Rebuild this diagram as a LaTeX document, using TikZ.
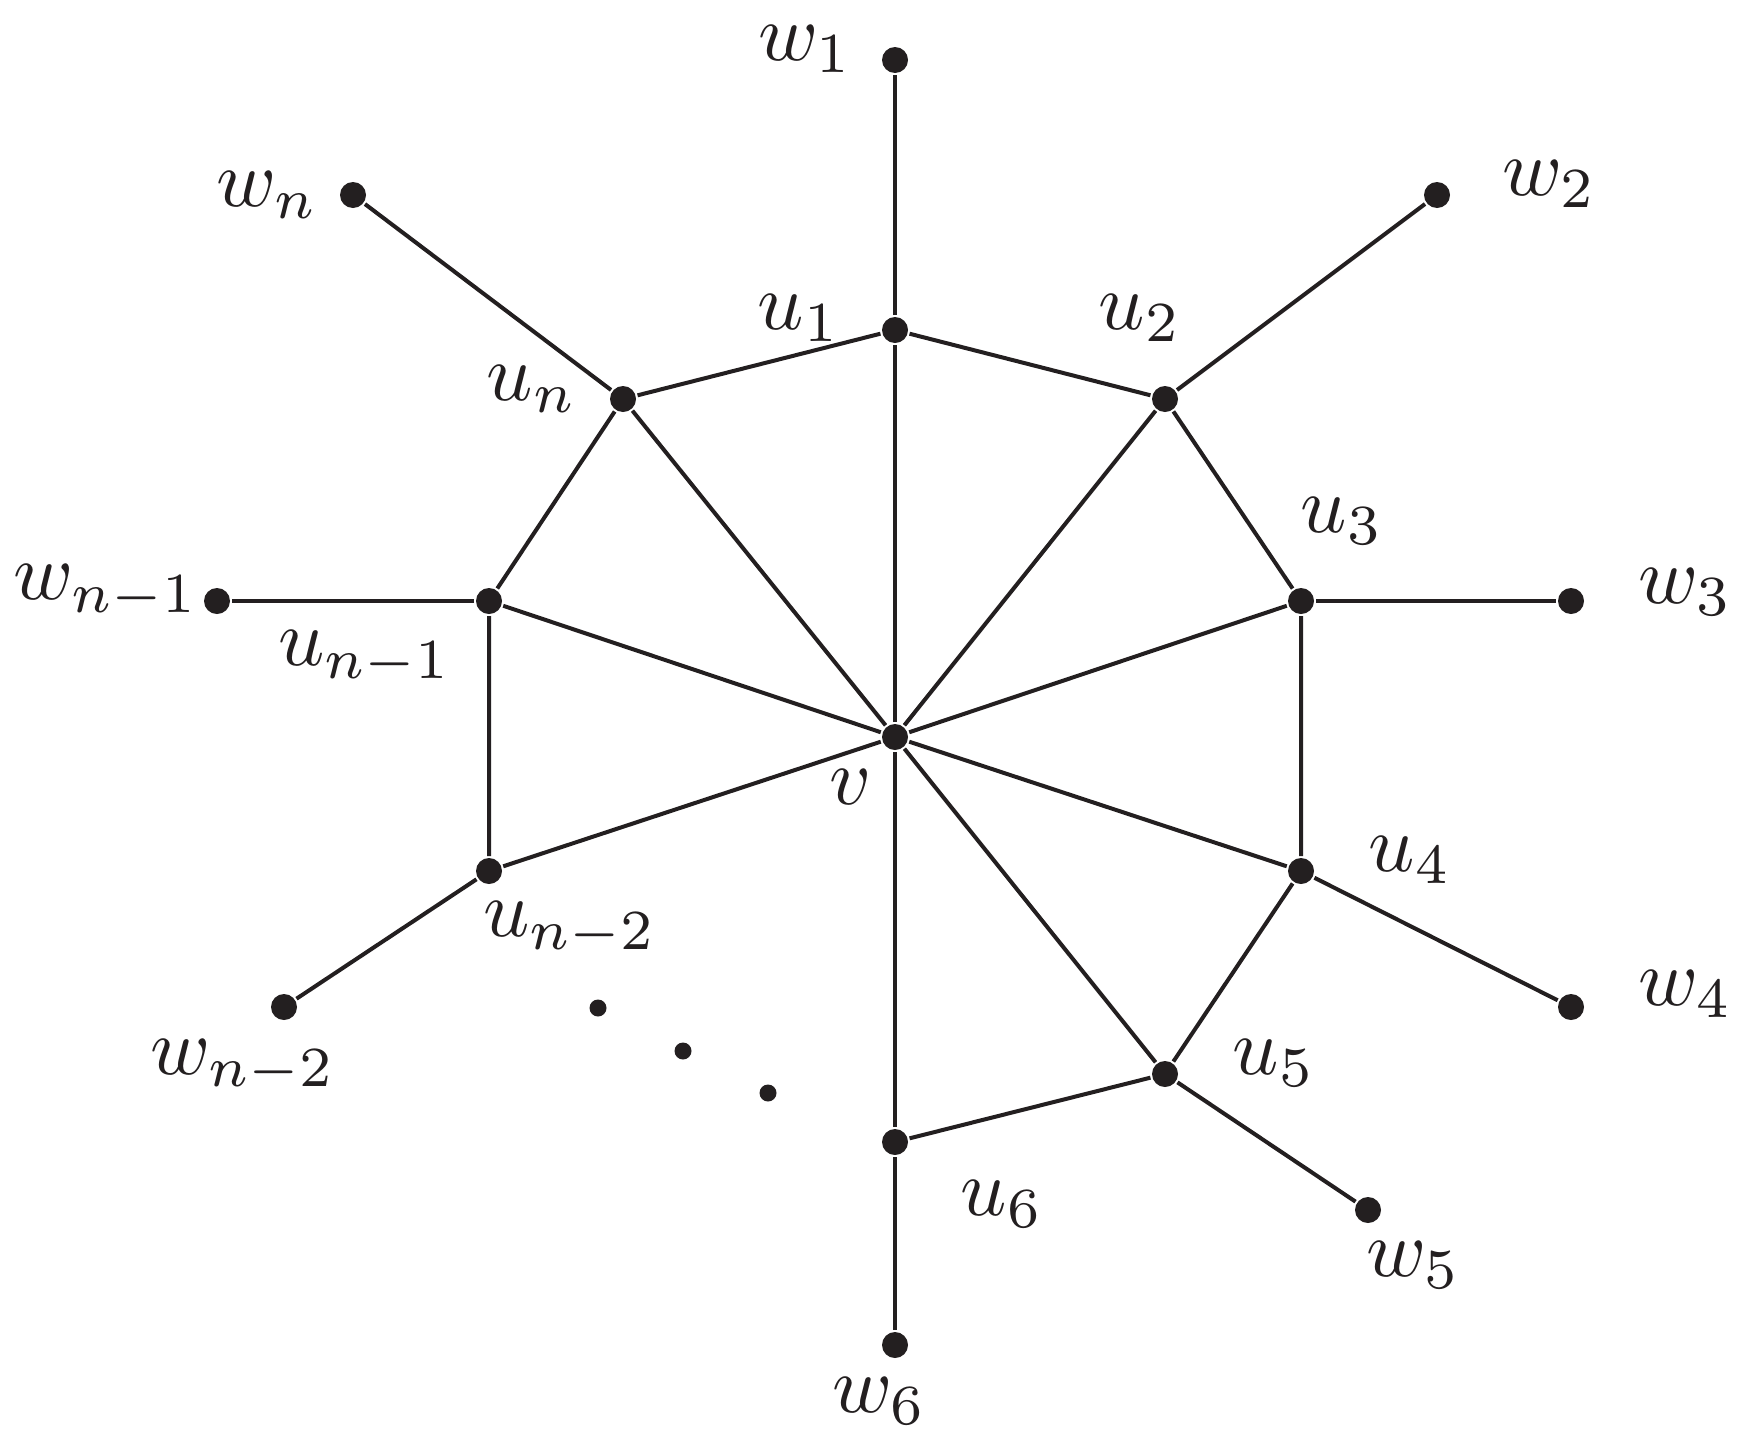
\documentclass[tikz,border=0pt]{standalone}
\definecolor{ink}{RGB}{35,31,32}
\begin{document}
\begin{tikzpicture}[x=1pt,y=-1pt,line width=4pt,draw=ink,
  vert/.style={circle,fill=ink,inner sep=0pt,minimum size=26pt},
  sdot/.style={circle,fill=ink,inner sep=0pt,minimum size=17pt},
  lab/.style={scale=8.1,text=ink,inner sep=0pt}]
\useasboundingbox (0,0) rectangle (1751,1451);
% vertices
\node[vert] (v)  at (895,737) {};
\node[vert] (u1) at (895,330) {};
\node[vert] (u2) at (1165,399) {};
\node[vert] (u3) at (1301,601) {};
\node[vert] (u4) at (1301,871) {};
\node[vert] (u5) at (1165,1074) {};
\node[vert] (u6) at (895,1142) {};
\node[vert] (um2) at (489,871) {};
\node[vert] (um1) at (489,601) {};
\node[vert] (un) at (623,399) {};
\node[vert] (w1) at (895,60) {};
\node[vert] (w2) at (1437,195) {};
\node[vert] (w3) at (1571,601) {};
\node[vert] (w4) at (1571,1007) {};
\node[vert] (w5) at (1368,1210) {};
\node[vert] (w6) at (895,1345) {};
\node[vert] (wm2) at (284,1007) {};
\node[vert] (wm1) at (217,601) {};
\node[vert] (wn) at (353,195) {};
% ellipsis dots
\node[sdot] (d1) at (598,1008) {};
\node[sdot] (d2) at (683,1051) {};
\node[sdot] (d3) at (768,1093) {};
% edges
\draw (un) -- (u1) -- (u2) -- (u3) -- (u4) -- (u5) -- (u6);
\draw (um2) -- (um1) -- (un);
\foreach \a in {u1,u2,u3,u4,u5,u6,um2,um1,un} \draw (v) -- (\a);
\draw (u1) -- (w1); \draw (u2) -- (w2); \draw (u3) -- (w3);
\draw (u4) -- (w4); \draw (u5) -- (w5); \draw (u6) -- (w6);
\draw (um2) -- (wm2); \draw (um1) -- (wm1); \draw (un) -- (wn);
% labels
\node[lab] (lw1) at (806,49) {$w_1$};
\node[lab] (lwn) at (268,195) {$w_n$};
\node[lab] (lw2) at (1550,184) {$w_2$};
\node[lab] (lu1) at (799,318) {$u_1$};
\node[lab] (lu2) at (1140,318) {$u_2$};
\node[lab] (lun) at (532,389) {$u_n$};
\node[lab] (lu3) at (1342,521) {$u_3$};
\node[lab] (lwm1) at (106,592) {$w_{n-1}$};
\node[lab] (lum1) at (365,658) {$u_{n-1}$};
\node[lab] (lw3) at (1686,592) {$w_3$};
\node[lab] (lv) at (851,787) {$v$};
\node[lab] (lu4) at (1410,860) {$u_4$};
\node[lab] (lum2) at (570,929) {$u_{n-2}$};
\node[lab] (lw4) at (1686,994) {$w_4$};
\node[lab] (lwm2) at (243,1066) {$w_{n-2}$};
\node[lab] (lu5) at (1274,1063) {$u_5$};
\node[lab] (lu6) at (1002,1204) {$u_6$};
\node[lab] (lw5) at (1414,1265) {$w_5$};
\node[lab] (lw6) at (880,1401) {$w_6$};
\end{tikzpicture}
\end{document}
